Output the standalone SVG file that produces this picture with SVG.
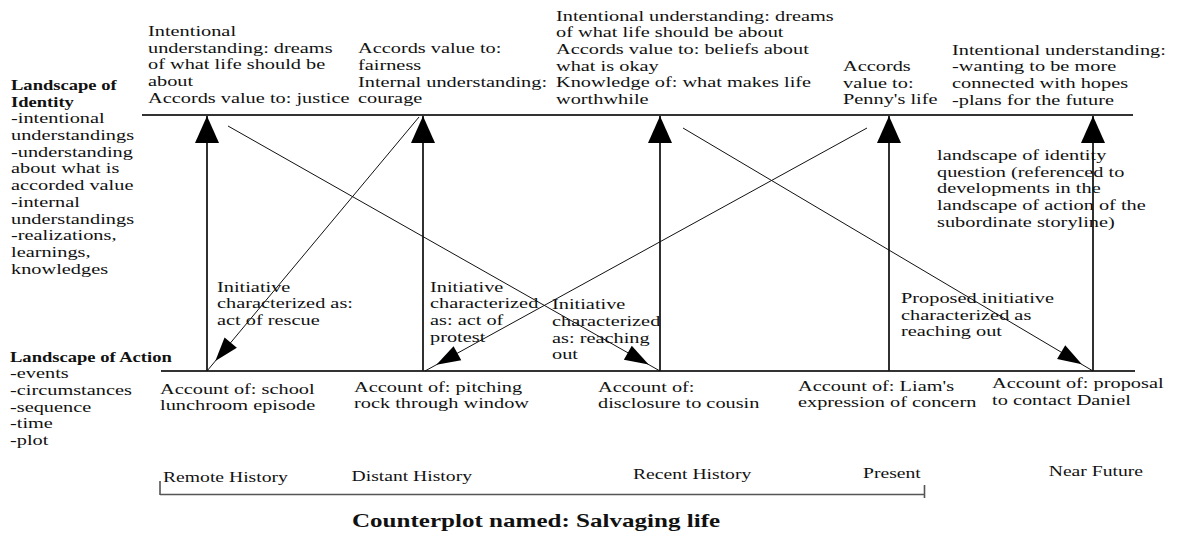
<svg xmlns="http://www.w3.org/2000/svg" width="1178" height="537" viewBox="0 0 1178 537">
<style>
.t{font-family:"Liberation Serif","Times New Roman",serif;font-size:15px;fill:#111}
.b{font-weight:bold;font-size:13.7px}
.tl{font-size:14.5px}
.cp{font-weight:bold;font-size:18.5px}
.h{stroke:#333;stroke-width:2;fill:none}
.v{stroke:#1a1a1a;stroke-width:1.8;fill:none}
.d{stroke:#111;stroke-width:1;fill:none}
.br{stroke:#555;stroke-width:1.6;fill:none}
</style>
<defs>
<marker id="bigHead" markerUnits="userSpaceOnUse" orient="auto" viewBox="-28 -13 29 26" refX="0" refY="0" markerWidth="29" markerHeight="26"><path d="M0,0 L-27,-12 L-27,12 Z" fill="#000"/></marker>
<marker id="smallHead" markerUnits="userSpaceOnUse" orient="auto" viewBox="-40 -10 42 20" refX="0" refY="0" markerWidth="42" markerHeight="20"><path d="M-13,0 L-37,-8 L-37,8 Z" fill="#000"/></marker>
</defs>
<rect width="1178" height="537" fill="#fff"/>

<g id="connectors">
<line class="h" x1="142" y1="115" x2="1133" y2="115"/>
<line class="h" x1="161" y1="371" x2="1135" y2="371"/>
<line class="v" x1="207" y1="371" x2="207" y2="116" marker-end="url(#bigHead)"/>
<line class="v" x1="423" y1="371" x2="423" y2="116" marker-end="url(#bigHead)"/>
<line class="v" x1="660" y1="371" x2="660" y2="116" marker-end="url(#bigHead)"/>
<line class="v" x1="889" y1="371" x2="889" y2="116" marker-end="url(#bigHead)"/>
<line class="v" x1="1093" y1="371" x2="1093" y2="116" marker-end="url(#bigHead)"/>
<line class="d" x1="419" y1="117" x2="207" y2="371" marker-end="url(#smallHead)"/>
<line class="d" x1="228" y1="126" x2="660" y2="371" marker-end="url(#smallHead)"/>
<line class="d" x1="867" y1="128" x2="425" y2="371" marker-end="url(#smallHead)"/>
<line class="d" x1="683" y1="128" x2="1093" y2="371" marker-end="url(#smallHead)"/>
</g>

<g id="timeline">
<path class="br" d="M160,481 V495 M160,494.5 H924.5 M924.5,485 V498"/>
<text class="t tl" transform="translate(163,482) scale(1.355,1)">Remote History</text>
<text class="t tl" transform="translate(351.5,481) scale(1.355,1)">Distant History</text>
<text class="t tl" transform="translate(633,479) scale(1.355,1)">Recent History</text>
<text class="t tl" transform="translate(863,478.4) scale(1.355,1)">Present</text>
<text class="t tl" transform="translate(1048.7,476.3) scale(1.355,1)">Near Future</text>
</g>

<g id="counterplot">
<text class="t cp" transform="translate(352,527) scale(1.355,1)">Counterplot named: Salvaging life</text>
</g>

<g id="landscape-identity">
<text class="t" transform="translate(11,90) scale(1.355,1)"><tspan class="b" x="0" dy="0">Landscape of</tspan><tspan class="b" x="0" dy="16.7">Identity</tspan><tspan x="0" dy="16.7">-intentional</tspan><tspan x="0" dy="16.7">understandings</tspan><tspan x="0" dy="16.7">-understanding</tspan><tspan x="0" dy="16.7">about what is</tspan><tspan x="0" dy="16.7">accorded value</tspan><tspan x="0" dy="16.7">-internal</tspan><tspan x="0" dy="16.7">understandings</tspan><tspan x="0" dy="16.7">-realizations,</tspan><tspan x="0" dy="16.7">learnings,</tspan><tspan x="0" dy="16.7">knowledges</tspan></text>
</g>

<g id="landscape-action">
<text class="t" transform="translate(10,361.7) scale(1.355,1)"><tspan class="b" x="0" dy="0">Landscape of Action</tspan><tspan x="0" dy="16.7">-events</tspan><tspan x="0" dy="16.7">-circumstances</tspan><tspan x="0" dy="16.7">-sequence</tspan><tspan x="0" dy="16.7">-time</tspan><tspan x="0" dy="16.7">-plot</tspan></text>
</g>

<g id="identity-1">
<text class="t" transform="translate(148,36) scale(1.355,1)"><tspan x="0" dy="0">Intentional</tspan><tspan x="0" dy="16.7">understanding: dreams</tspan><tspan x="0" dy="16.7">of what life should be</tspan><tspan x="0" dy="16.7">about</tspan><tspan x="0" dy="16.7">Accords value to: justice</tspan></text>
</g>
<g id="identity-2">
<text class="t" transform="translate(358,53.2) scale(1.355,1)"><tspan x="0" dy="0">Accords value to:</tspan><tspan x="0" dy="16.7">fairness</tspan><tspan x="0" dy="16.7">Internal understanding:</tspan><tspan x="0" dy="16.7">courage</tspan></text>
</g>
<g id="identity-3">
<text class="t" transform="translate(556,20.5) scale(1.355,1)"><tspan x="0" dy="0">Intentional understanding: dreams</tspan><tspan x="0" dy="16.7">of what life should be about</tspan><tspan x="0" dy="16.7">Accords value to: beliefs about</tspan><tspan x="0" dy="16.7">what is okay</tspan><tspan x="0" dy="16.7">Knowledge of: what makes life</tspan><tspan x="0" dy="16.7">worthwhile</tspan></text>
</g>
<g id="identity-4">
<text class="t" transform="translate(843,71) scale(1.355,1)"><tspan x="0" dy="0">Accords</tspan><tspan x="0" dy="16.7">value to:</tspan><tspan x="0" dy="16.7">Penny's life</tspan></text>
</g>
<g id="identity-5">
<text class="t" transform="translate(952,54.5) scale(1.355,1)"><tspan x="0" dy="0">Intentional understanding:</tspan><tspan x="0" dy="16.7">-wanting to be more</tspan><tspan x="0" dy="16.7">connected with hopes</tspan><tspan x="0" dy="16.7">-plans for the future</tspan></text>
</g>
<g id="identity-question">
<text class="t" transform="translate(937,160) scale(1.355,1)"><tspan x="0" dy="0">landscape of identity</tspan><tspan x="0" dy="16.7">question (referenced to</tspan><tspan x="0" dy="16.7">developments in the</tspan><tspan x="0" dy="16.7">landscape of action of the</tspan><tspan x="0" dy="16.7">subordinate storyline)</tspan></text>
</g>

<g id="initiative-rescue">
<text class="t" transform="translate(217,291.7) scale(1.355,1)"><tspan x="0" dy="0">Initiative</tspan><tspan x="0" dy="16.7">characterized as:</tspan><tspan x="0" dy="16.7">act of rescue</tspan></text>
</g>
<g id="initiative-protest">
<text class="t" transform="translate(430,291.7) scale(1.355,1)"><tspan x="0" dy="0">Initiative</tspan><tspan x="0" dy="16.7">characterized</tspan><tspan x="0" dy="16.7">as: act of</tspan><tspan x="0" dy="16.7">protest</tspan></text>
</g>
<g id="initiative-reaching">
<text class="t" transform="translate(552,309.3) scale(1.355,1)"><tspan x="0" dy="0">Initiative</tspan><tspan x="0" dy="16.7">characterized</tspan><tspan x="0" dy="16.7">as: reaching</tspan><tspan x="0" dy="16.7">out</tspan></text>
</g>
<g id="initiative-proposed">
<text class="t" transform="translate(901,303) scale(1.355,1)"><tspan x="0" dy="0">Proposed initiative</tspan><tspan x="0" dy="16.7">characterized as</tspan><tspan x="0" dy="16.7">reaching out</tspan></text>
</g>

<g id="account-1">
<text class="t" transform="translate(160,393.5) scale(1.355,1)"><tspan x="0" dy="0">Account of: school</tspan><tspan x="0" dy="16.7">lunchroom episode</tspan></text>
</g>
<g id="account-2">
<text class="t" transform="translate(354,391.7) scale(1.355,1)"><tspan x="0" dy="0">Account of: pitching</tspan><tspan x="0" dy="16.7">rock through window</tspan></text>
</g>
<g id="account-3">
<text class="t" transform="translate(598,391.7) scale(1.355,1)"><tspan x="0" dy="0">Account of:</tspan><tspan x="0" dy="16.7">disclosure to cousin</tspan></text>
</g>
<g id="account-4">
<text class="t" transform="translate(798,390.7) scale(1.355,1)"><tspan x="0" dy="0">Account of: Liam's</tspan><tspan x="0" dy="16.7">expression of concern</tspan></text>
</g>
<g id="account-5">
<text class="t" transform="translate(992,388.3) scale(1.355,1)"><tspan x="0" dy="0">Account of: proposal</tspan><tspan x="0" dy="16.7">to contact Daniel</tspan></text>
</g>
</svg>
